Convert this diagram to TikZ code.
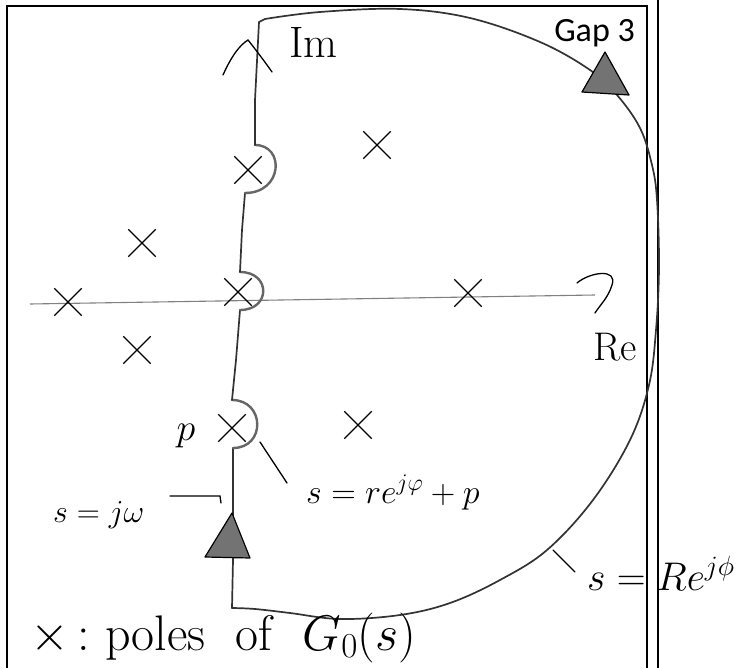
\RequirePackage{fix-cm}
\documentclass[tikz,border=0pt]{standalone}
\usepackage{fontspec}
\newfontfamily\gapfont{Carlito}
\usetikzlibrary{shapes.misc}
\begin{document}
\begin{tikzpicture}[x=1pt,y=-1pt,
  pole/.style={cross out, draw=black, line width=1.3pt, minimum size=26pt, inner sep=0pt},
  contour/.style={line width=1.7pt, draw=black!80, line join=round, line cap=round},
  semi/.style={line width=2.4pt, draw=black!60, line cap=round},
  axisline/.style={line width=1.1pt, draw=black!50},
  frame/.style={line width=1.6pt, draw=black},
  tri/.style={draw=black, line width=1.2pt, fill=black!55, line join=round},
  lead/.style={line width=1.3pt, draw=black, line cap=round},
  hand/.style={inner sep=0pt, text=black}]
\useasboundingbox (0,0) rectangle (755,668);
% frame
\draw[frame] (7,668) -- (7,6) -- (647,6) -- (647,668);
\draw[frame] (658,0) -- (658,668);
% real axis
\coordinate (reL) at (30,304);
\coordinate (reR) at (595,295);
\draw[axisline] (reL) -- (reR);
\draw[lead] (577,283) .. controls (590,272) and (618,268) .. (612,285) .. controls (608,298) and (600,305) .. (595,313);
% imaginary axis / contour left part
\draw[contour] (232,608) -- (233,560) -- (233,448);
\draw[semi] (233,448) .. controls (266,448) and (265,400) .. (232,400);
\draw[contour] (232,400) -- (236,360) -- (240,310);
\draw[semi] (240,310) .. controls (271,310) and (271,272) .. (240,272);
\draw[contour] (240,272) -- (242,230) -- (245,193);
\draw[semi] (245,193) .. controls (283,193) and (285,145) .. (255,145);
\draw[contour] (255,145) -- (255,100) -- (259,22) -- (265,19);
% big arc
\draw[contour] plot[smooth, tension=0.6] coordinates {(265,19) (320,12) (400,9) (470,18) (540,42) (590,70) (617,95) (640,128) (652,165) (657,200) (659,267) (656,330) (649,385) (630,440) (593,500) (547,550) (500,580) (450,603) (400,615) (340,619) (290,613) (255,609) (232,608)};
% Im arrow
\draw[lead] (223,75) .. controls (232,55) and (240,45) .. (248,40) .. controls (256,50) and (265,62) .. (272,72);
% direction triangles
\draw[tri] (605,52) -- (582,92) -- (629,95) -- cycle;
\draw[tri] (232,513) -- (205,557) -- (250,558) -- cycle;
% poles
\node[pole] (p1) at (377,145) {};
\node[pole] (p2) at (142,243) {};
\node[pole] (p3) at (68,302) {};
\node[pole] (p4) at (238,292) {};
\node[pole] (p5) at (137,350) {};
\node[pole] (p6) at (248,170) {};
\node[pole] (p7) at (468,293) {};
\node[pole] (p8) at (358,425) {};
\node[pole] (p9) at (232,428) {};
% labels
\node[hand, anchor=base west, font=\fontsize{44}{44}\selectfont] (im) at (289,58) {Im};
\node[hand, anchor=base east, font=\gapfont\fontsize{34}{34}\selectfont] (gap) at (635,42) {Gap 3};
\node[hand, anchor=base west, font=\fontsize{40}{40}\selectfont] (re) at (593,360) {Re};
\node[hand, anchor=base, font=\fontsize{38}{38}\selectfont] (plbl) at (186,440) {$p$};
\node[hand, anchor=base west, font=\fontsize{32}{32}\selectfont] (sjw) at (53,522) {$s=j\omega$};
\node[hand, anchor=base west, font=\fontsize{34}{34}\selectfont] (sre) at (306,503) {$s=re^{j\varphi}+p$};
\node[hand, anchor=base west, font=\fontsize{40}{40}\selectfont] (sRe) at (587,590) {$s=Re^{j\phi}$};
\node[hand, anchor=base west, font=\fontsize{50}{50}\selectfont] (legend) at (30,650) {$\times$\,:\ poles\ \ of\ \ $G_0(s)$};
% leaders
\coordinate (l1a) at (170,496);
\coordinate (l1b) at (220,496);
\coordinate (l1c) at (221,503);
\draw[lead] (l1a) -- (l1b) -- (l1c);
\coordinate (l2a) at (260,442);
\coordinate (l2b) at (287,483);
\draw[lead] (l2a) -- (l2b);
\coordinate (l3a) at (553,550);
\coordinate (l3b) at (575,572);
\draw[lead] (l3a) -- (l3b);
\end{tikzpicture}
\end{document}
